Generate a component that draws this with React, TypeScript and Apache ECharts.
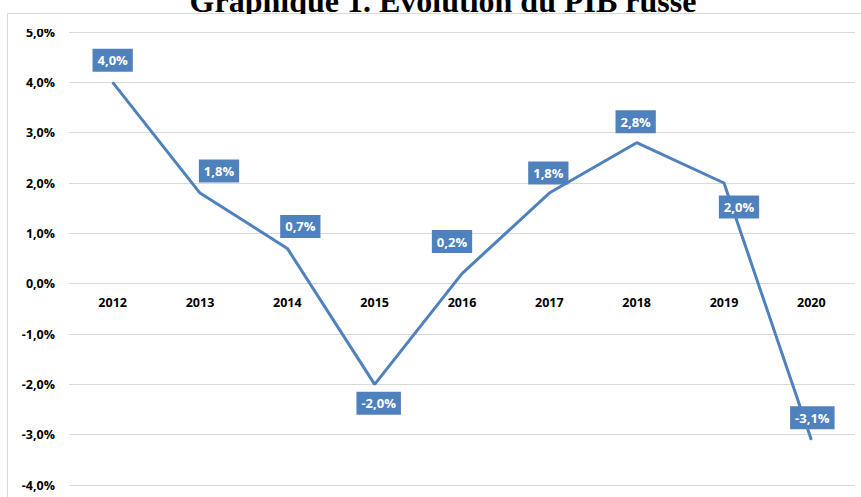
import React, { useEffect, useRef } from "react";
import * as echarts from "echarts";

const years = ["2012", "2013", "2014", "2015", "2016", "2017", "2018", "2019", "2020"];
const gdpGrowth = [4.0, 1.8, 0.7, -2.0, 0.2, 1.8, 2.8, 2.0, -3.1];
const yTicks = { min: -4, max: 5, interval: 1 };
const titleText = "Graphique 1. Évolution du PIB russe";

// label placement offsets (style only)
const labelOffsets: [number, number][] = [
  [0, -22],
  [19, -22],
  [13, -22],
  [4, 19],
  [-10, -32],
  [-1, -20],
  [-1, -21],
  [15, 24],
  [1, -22],
];

const fmt = (v: number) => v.toFixed(1).replace(".", ",") + "%";

export default function App() {
  const ref = useRef<HTMLDivElement>(null);
  useEffect(() => {
    if (!ref.current) return;
    const chart = echarts.init(ref.current, null, { renderer: "svg" });
    const blue = "#4F81BD";
    const gridTop = 32;
    const gridBottom = 12;
    const plotH = 497 - gridTop - gridBottom;
    // shift the category axis up to the zero line
    const zeroOffset = -plotH * (0 - yTicks.min) / (yTicks.max - yTicks.min);
    chart.setOption({
      animation: false,
      backgroundColor: "#ffffff",
      graphic: [
        {
          type: "rect",
          z: 0,
          shape: { x: 7.5, y: 13.5, width: 900, height: 520 },
          style: { fill: "#ffffff", stroke: "#d9d9d9", lineWidth: 1 },
        },
        {
          type: "text",
          z: 1,
          x: 443,
          y: 1.2,
          style: {
            text: titleText,
            fill: "#000000",
            font: "bold 32px 'Liberation Serif', 'Times New Roman', serif",
            align: "center",
            verticalAlign: "middle",
          },
        },
        {
          type: "rect",
          z: 2,
          shape: { x: 8, y: 14, width: 900, height: 15 },
          style: { fill: "#ffffff", stroke: "none" },
        },
      ],
      grid: {
        left: 69,
        right: 6,
        top: gridTop,
        bottom: gridBottom,
        containLabel: false,
        outerBoundsMode: "none",
      },
      xAxis: {
        type: "category",
        data: years,
        boundaryGap: true,
        position: "bottom",
        offset: zeroOffset,
        axisLine: { show: false, onZero: false },
        axisTick: { show: false },
        axisLabel: {
          margin: 12,
          color: "#000000",
          fontFamily: "'Open Sans', sans-serif",
          fontWeight: "bold",
          fontSize: 12.5,
        },
        splitLine: { show: false },
      },
      yAxis: {
        type: "value",
        min: yTicks.min,
        max: yTicks.max,
        interval: yTicks.interval,
        axisLine: { show: false },
        axisTick: { show: false },
        axisLabel: {
          margin: 14,
          color: "#000000",
          fontFamily: "'Open Sans', sans-serif",
          fontWeight: "bold",
          fontSize: 12.5,
          formatter: (v: number) => fmt(v),
        },
        splitLine: { show: true, lineStyle: { color: "#d9d9d9", width: 1 } },
      },
      series: [
        {
          type: "line",
          data: gdpGrowth.map((v, i) => ({
            value: v,
            label: { offset: labelOffsets[i] },
          })),
          symbol: "circle",
          symbolSize: 1,
          showSymbol: true,
          itemStyle: { color: blue },
          lineStyle: { color: blue, width: 3 },
          z: 3,
          label: {
            show: true,
            position: "inside",
            formatter: (p: any) => fmt(p.value),
            backgroundColor: blue,
            color: "#ffffff",
            fontFamily: "'Open Sans', sans-serif",
            fontWeight: "bold",
            fontSize: 13,
            lineHeight: 14,
            padding: [5, 5, 4, 5],
          },
          emphasis: { disabled: true },
        },
      ],
    });
    return () => chart.dispose();
  }, []);
  return (
    <div
      ref={ref}
      style={{ position: "fixed", left: 0, top: 0, width: 861, height: 497 }}
    />
  );
}
